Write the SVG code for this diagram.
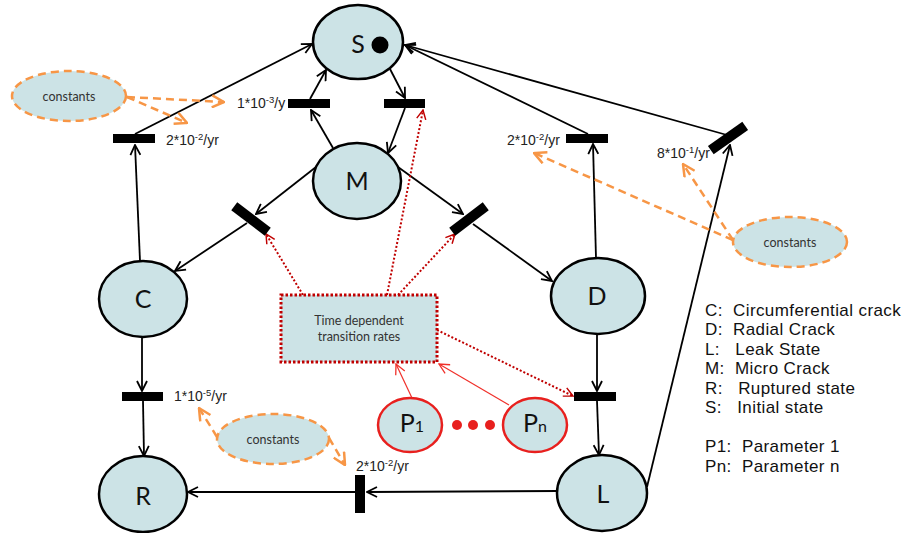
<svg xmlns="http://www.w3.org/2000/svg" width="914" height="533" viewBox="0 0 914 533">
<defs>
<style>
.st ellipse{fill:#CCE3E6;stroke:#000;stroke-width:2.5}
.pn ellipse{fill:#CCE3E6;stroke:#E8201E;stroke-width:2.5}
.cn ellipse{fill:#CCE3E6;stroke:#F79646;stroke-width:2.5;stroke-dasharray:8 5}
.lbl{font-family:Lato,"Open Sans",sans-serif;font-size:25px;fill:#111;text-anchor:middle}
.ctx{font-family:Lato,"Open Sans",sans-serif;font-size:12.5px;fill:#333;text-anchor:middle}
.rate{font-family:"Liberation Sans",Arial,sans-serif;font-size:14px;fill:#222}
.leg{font-family:"Liberation Sans",Arial,sans-serif;font-size:17px;letter-spacing:0.4px;fill:#111;white-space:pre}
.bar{fill:#000}
.arc{stroke:#000;stroke-width:1.8;fill:none;marker-end:url(#ab)}
.dot{stroke:#C00000;stroke-width:2;stroke-dasharray:2 2;fill:none;marker-end:url(#ar)}
.rs{stroke:#F0302A;stroke-width:1.2;fill:none;marker-end:url(#ar2)}
.ods{stroke:#F79646;stroke-width:2.5;stroke-dasharray:8 5;fill:none;marker-end:url(#ao)}
</style>
<marker id="ab" viewBox="0 0 12 12" refX="11" refY="6" markerWidth="12" markerHeight="12" markerUnits="userSpaceOnUse" orient="auto"><path d="M1,1 L11,6 L1,11" fill="none" stroke="#000" stroke-width="1.8"/></marker>
<marker id="ar" viewBox="0 0 12 12" refX="11" refY="6" markerWidth="11" markerHeight="11" markerUnits="userSpaceOnUse" orient="auto"><path d="M1,1 L11,6 L1,11" fill="none" stroke="#C00000" stroke-width="1.6"/></marker>
<marker id="ar2" viewBox="0 0 12 12" refX="11" refY="6" markerWidth="12" markerHeight="12" markerUnits="userSpaceOnUse" orient="auto"><path d="M1,1 L11,6 L1,11" fill="none" stroke="#F0302A" stroke-width="1.3"/></marker>
<marker id="ao" viewBox="0 0 14 14" refX="13" refY="7" markerWidth="14" markerHeight="14" markerUnits="userSpaceOnUse" orient="auto"><path d="M1,1 L13,7 L1,13" fill="none" stroke="#F79646" stroke-width="2.5"/></marker>
</defs>
<rect width="914" height="533" fill="#fff"/>

<g id="connectors">
<path class="arc" d="M140,261 L135,145"/>
<path class="arc" d="M135,134 L312,44"/>
<path class="arc" d="M333,148 L311,110"/>
<path class="arc" d="M310,99 L326,70"/>
<path class="arc" d="M390,69 L405,98"/>
<path class="arc" d="M405,108 L388,153"/>
<path class="arc" d="M316,167 L256,214"/>
<path class="arc" d="M247,223 L175,271"/>
<path class="arc" d="M398,167 L463,214"/>
<path class="arc" d="M473,224 L552,281"/>
<path class="arc" d="M596,258 L593,144"/>
<path class="arc" d="M588,134 L405,45"/>
<path class="arc" d="M727,135 L405,45"/>
<path class="arc" d="M647,487 L730,145"/>
<path class="arc" d="M597,334 L597,391"/>
<path class="arc" d="M597,401 L599,455"/>
<path class="arc" d="M142,337 L142,391"/>
<path class="arc" d="M143,401 L144,456"/>
<path class="arc" d="M558,491 L367,492"/>
<path class="arc" d="M355,492 L188,492"/>
<path class="dot" d="M303,295 L266,234"/>
<path class="dot" d="M387,295 L423,110"/>
<path class="dot" d="M398,295 L455,234"/>
<path class="dot" d="M437,330 L573,396"/>
<path class="rs" d="M412,398 L396,364"/>
<path class="rs" d="M509,405 L439,364"/>
<path class="ods" d="M127,97 L224,102"/>
<path class="ods" d="M127,97 L187,123"/>
<path class="ods" d="M733,240 L534,153"/>
<path class="ods" d="M733,240 L683,164"/>
<path class="ods" d="M217,437 L199,408"/>
<path class="ods" d="M329,438 L345,465"/>
</g>

<g id="transitions">
<rect id="t1" class="bar" x="113" y="134" width="42" height="9"/>
<rect id="t2" class="bar" x="288" y="99" width="42" height="9"/>
<rect id="t3" class="bar" x="384" y="99" width="41" height="9"/>
<rect id="t4" class="bar" x="230" y="214" width="42" height="10" transform="rotate(37 251 219)"/>
<rect id="t5" class="bar" x="448" y="214" width="42" height="10" transform="rotate(-37 469 219)"/>
<rect id="t6" class="bar" x="566" y="134" width="42" height="9"/>
<rect id="t7" class="bar" x="707" y="133" width="42" height="10" transform="rotate(-35 728 138)"/>
<rect id="t8" class="bar" x="574" y="392" width="42" height="9"/>
<rect id="t9" class="bar" x="122" y="392" width="41" height="9"/>
<rect id="t10" class="bar" x="355" y="475" width="10" height="38"/>
</g>

<g id="rates">
<text class="rate" x="166" y="145">2*10<tspan font-size="9.5" dy="-5">-2</tspan><tspan dy="5">/yr</tspan></text>
<text class="rate" x="237" y="108">1*10<tspan font-size="9.5" dy="-5">-3</tspan><tspan dy="5">/y</tspan></text>
<text class="rate" x="507" y="145">2*10<tspan font-size="9.5" dy="-5">-2</tspan><tspan dy="5">/yr</tspan></text>
<text class="rate" x="657" y="158">8*10<tspan font-size="9.5" dy="-5">-1</tspan><tspan dy="5">/yr</tspan></text>
<text class="rate" x="174" y="401">1*10<tspan font-size="9.5" dy="-5">-5</tspan><tspan dy="5">/yr</tspan></text>
<text class="rate" x="356" y="471">2*10<tspan font-size="9.5" dy="-5">-2</tspan><tspan dy="5">/yr</tspan></text>
</g>

<g id="S" class="st"><ellipse cx="358" cy="42" rx="45" ry="37"/><text class="lbl" x="358" y="53">S</text><circle cx="380" cy="45" r="8.5" fill="#000"/></g>
<g id="M" class="st"><ellipse cx="357" cy="181" rx="44" ry="38"/><text class="lbl" x="357" y="190">M</text></g>
<g id="C" class="st"><ellipse cx="143" cy="299" rx="44" ry="38"/><text class="lbl" x="143" y="308">C</text></g>
<g id="R" class="st"><ellipse cx="143" cy="494" rx="44" ry="38"/><text class="lbl" x="143" y="505">R</text></g>
<g id="D" class="st"><ellipse cx="598" cy="296" rx="47" ry="38"/><text class="lbl" x="597" y="305">D</text></g>
<g id="L" class="st"><ellipse cx="602" cy="493" rx="45" ry="38"/><text class="lbl" x="603" y="503">L</text></g>

<g id="P1" class="pn"><ellipse cx="410" cy="425" rx="32" ry="27"/><text class="lbl" x="412" y="432" font-size="20">P<tspan font-size="16">1</tspan></text></g>
<g id="dots" fill="#E8201E"><circle cx="457" cy="425" r="5"/><circle cx="473" cy="425" r="5"/><circle cx="490" cy="425" r="5"/></g>
<g id="Pn" class="pn"><ellipse cx="535" cy="425" rx="32" ry="27"/><text class="lbl" x="535" y="432" font-size="20">P<tspan font-size="16">n</tspan></text></g>

<g id="box"><rect x="281" y="295" width="156" height="67" fill="#CCE3E6" stroke="#C00000" stroke-width="3" stroke-dasharray="2.5 2"/><text class="ctx" x="359" y="325">Time dependent</text><text class="ctx" x="359" y="341">transition rates</text></g>

<g id="const1" class="cn"><ellipse cx="69" cy="96" rx="57" ry="25"/><text class="ctx" x="69" y="101">constants</text></g>
<g id="const2" class="cn"><ellipse cx="790" cy="242" rx="57" ry="25"/><text class="ctx" x="790" y="247">constants</text></g>
<g id="const3" class="cn"><ellipse cx="273" cy="439" rx="56" ry="25"/><text class="ctx" x="273" y="444">constants</text></g>

<g id="legend">
<text class="leg" x="705" y="316">C:  Circumferential crack</text>
<text class="leg" x="705" y="335">D:  Radial Crack</text>
<text class="leg" x="705" y="355">L:   Leak State</text>
<text class="leg" x="705" y="374">M:  Micro Crack</text>
<text class="leg" x="705" y="394">R:   Ruptured state</text>
<text class="leg" x="705" y="413">S:   Initial state</text>
<text class="leg" x="705" y="452">P1:  Parameter 1</text>
<text class="leg" x="705" y="472">Pn:  Parameter n</text>
</g>
</svg>
